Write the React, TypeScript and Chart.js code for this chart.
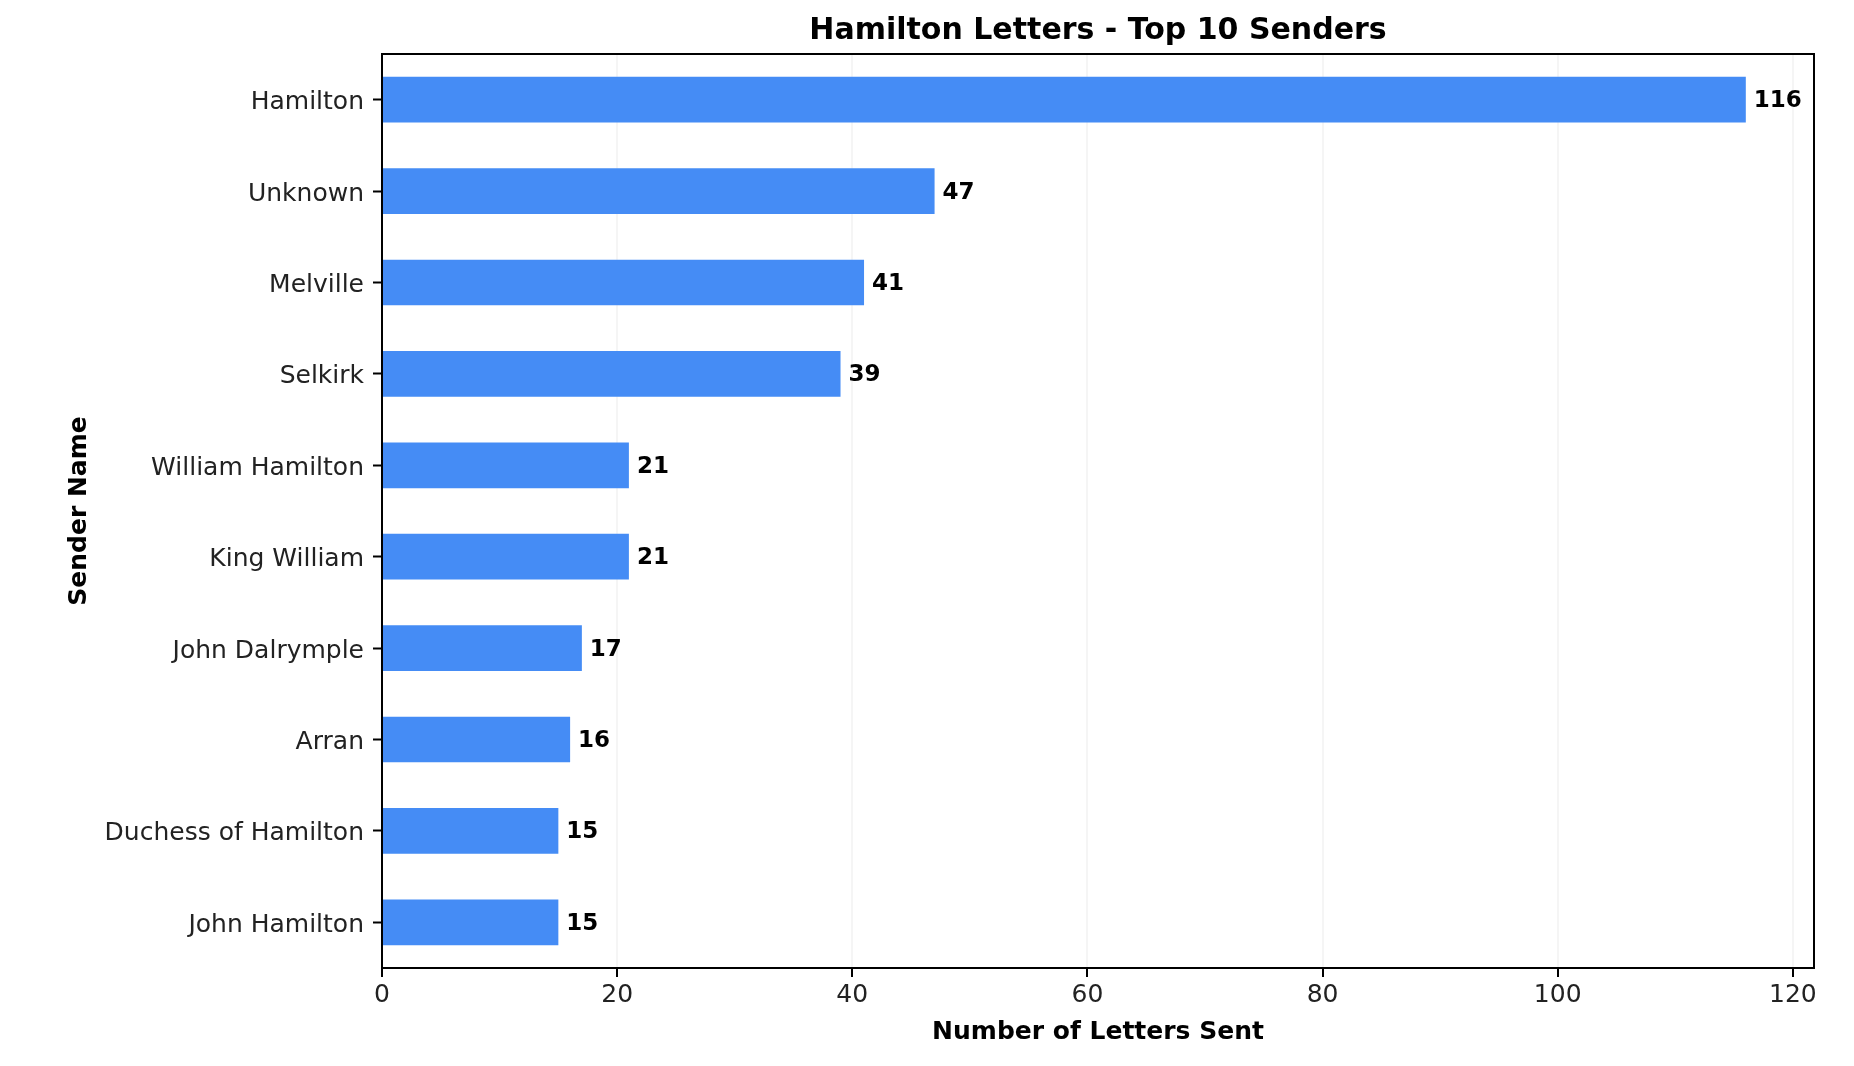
import React, { useRef, useEffect } from "react";
import { Chart, registerables } from "chart.js";

Chart.register(...registerables);

const senders = [
  "Hamilton",
  "Unknown",
  "Melville",
  "Selkirk",
  "William Hamilton",
  "King William",
  "John Dalrymple",
  "Arran",
  "Duchess of Hamilton",
  "John Hamilton",
];
const letterCounts = [116, 47, 41, 39, 21, 21, 17, 16, 15, 15];
const xTicks = [0, 20, 40, 60, 80, 100, 120];

const FONT = "'DejaVu Sans', 'Liberation Sans', sans-serif";

// value labels at the end of each bar
const valueLabels = {
  id: "valueLabels",
  afterDatasetsDraw(chart: any) {
    const ctx = chart.ctx;
    const meta = chart.getDatasetMeta(0);
    ctx.save();
    ctx.font = `bold 23px ${FONT}`;
    ctx.fillStyle = "#000";
    ctx.textAlign = "left";
    ctx.textBaseline = "middle";
    meta.data.forEach((bar: any, i: number) => {
      ctx.fillText(String(letterCounts[i]), bar.x + 8, bar.y + 1.5);
    });
    ctx.restore();
  },
};

// black frame around the plot area
const frame = {
  id: "frame",
  afterDraw(chart: any) {
    const { ctx, chartArea } = chart;
    ctx.save();
    ctx.strokeStyle = "#000";
    ctx.lineWidth = 2;
    ctx.strokeRect(
      chartArea.left,
      chartArea.top,
      chartArea.right - chartArea.left,
      chartArea.bottom - chartArea.top
    );
    ctx.restore();
  },
};

export default function App() {
  const canvasRef = useRef<HTMLCanvasElement>(null);

  useEffect(() => {
    const canvas = canvasRef.current;
    if (!canvas) return;

    const chart = new Chart(canvas, {
      type: "bar",
      data: {
        labels: senders,
        datasets: [
          {
            label: "Number of Letters Sent",
            data: letterCounts,
            backgroundColor: "#458CF5",
            borderWidth: 0,
            barPercentage: 0.5,
            categoryPercentage: 1.0,
          },
        ],
      },
      options: {
        indexAxis: "y",
        animation: false,
        responsive: true,
        maintainAspectRatio: false,
        layout: { padding: { left: 0, right: 40, top: 0, bottom: 0 } },
        plugins: {
          legend: { display: false },
          tooltip: { enabled: false },
          title: {
            display: true,
            fullSize: false,
            text: "Hamilton Letters - Top 10 Senders",
            color: "#000",
            font: { family: FONT, size: 30, weight: "bold", lineHeight: 1.2 },
            padding: { top: 13, bottom: 5 },
          },
        },
        scales: {
          x: {
            type: "linear",
            min: 0,
            max: 121.8,
            z: 1,
            afterFit: (scale: any) => {
              scale.height = 98;
            },
            afterBuildTicks: (scale: any) => {
              scale.ticks = xTicks.map((v) => ({ value: v }));
            },
            ticks: {
              stepSize: 20,
              includeBounds: false,
              padding: 3,
              color: "#222",
              font: { family: FONT, size: 25 },
            },
            grid: {
              color: "rgba(0,0,0,0.04)",
              lineWidth: 2,
              tickColor: "#000",
              tickWidth: 2,
              tickLength: 9,
            },
            border: { display: true, color: "#000", width: 2 },
            title: {
              display: true,
              text: "Number of Letters Sent",
              color: "#000",
              font: { family: FONT, size: 25, weight: "bold", lineHeight: 1.2 },
              padding: { top: 0, bottom: 19 },
            },
          },
          y: {
            type: "category",
            afterFit: (scale: any) => {
              scale.width = 382;
            },
            ticks: {
              padding: 9,
              labelOffset: 3,
              color: "#222",
              autoSkip: false,
              font: { family: FONT, size: 25 },
            },
            grid: {
              offset: false,
              drawOnChartArea: false,
              tickColor: "#000",
              tickWidth: 2,
              tickLength: 9,
            },
            border: { display: true, color: "#000", width: 2 },
            title: {
              display: true,
              text: "Sender Name",
              color: "#000",
              font: { family: FONT, size: 25, weight: "bold", lineHeight: 1.2 },
              padding: { top: 64, bottom: 0 },
            },
          },
        },
      },
      plugins: [valueLabels, frame],
    });

    return () => {
      chart.destroy();
    };
  }, []);

  return (
    <div
      style={{
        position: "absolute",
        left: 0,
        top: 0,
        width: 1854,
        height: 1066,
        background: "#fff",
      }}
    >
      <canvas ref={canvasRef} />
    </div>
  );
}
